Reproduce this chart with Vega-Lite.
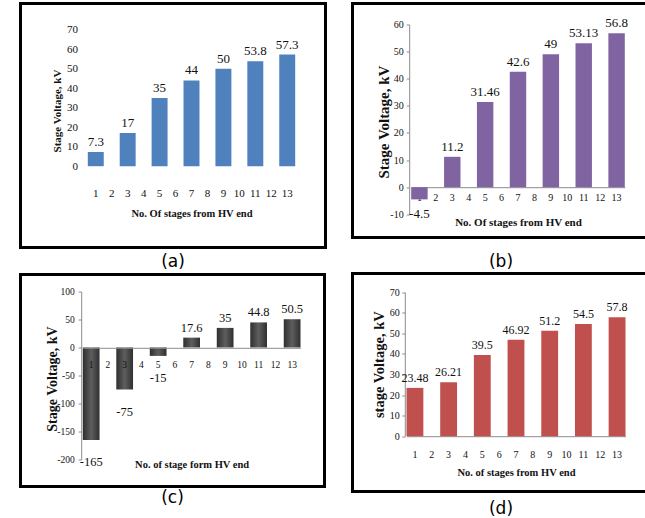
{
  "$schema": "https://vega.github.io/schema/vega-lite/v6.json",
  "background": "white",
  "padding": {"left": 18.5, "top": 1.5, "right": 0, "bottom": 0},
  "config": {
    "view": {"stroke": "#000000", "strokeWidth": 3},
    "font": "Liberation Serif",
    "axis": {"labelFont": "Liberation Serif", "titleFont": "Liberation Serif", "labelColor": "#111111", "titleColor": "#111111", "domainColor": "#8c8c8c", "tickColor": "#8c8c8c", "grid": false, "titleFontWeight": "bold", "labelAngle": 0, "labelOverlap": false, "titleBaseline": "middle", "labelExpr": "datum.value + ''"},
    "title": {"font": "DejaVu Sans", "fontSize": 17, "fontWeight": "normal", "color": "#000000", "orient": "bottom", "anchor": "middle"},
    "text": {"font": "Liberation Serif", "color": "#111111"}
  },
  "datasets": {
    "a": [{"stage": 1, "v": 7.3}, {"stage": 3, "v": 17}, {"stage": 5, "v": 35}, {"stage": 7, "v": 44}, {"stage": 9, "v": 50}, {"stage": 11, "v": 53.8}, {"stage": 13, "v": 57.3}],
    "b": [{"stage": 1, "v": -4.5}, {"stage": 3, "v": 11.2}, {"stage": 5, "v": 31.46}, {"stage": 7, "v": 42.6}, {"stage": 9, "v": 49}, {"stage": 11, "v": 53.13}, {"stage": 13, "v": 56.8}],
    "c": [{"stage": 1, "v": -165}, {"stage": 3, "v": -75}, {"stage": 5, "v": -15}, {"stage": 7, "v": 17.6}, {"stage": 9, "v": 35}, {"stage": 11, "v": 44.8}, {"stage": 13, "v": 50.5}],
    "d": [{"stage": 1, "v": 23.48}, {"stage": 3, "v": 26.21}, {"stage": 5, "v": 39.5}, {"stage": 7, "v": 46.92}, {"stage": 9, "v": 51.2}, {"stage": 11, "v": 54.5}, {"stage": 13, "v": 57.8}]
  },
  "spacing": 23,
  "hconcat": [
    {
      "spacing": 1,
      "vconcat": [
        {
          "width": 305, "height": 244,
          "title": {"text": "(a)", "offset": 6},
          "data": {"name": "a"},
          "encoding": {
            "x": {"field": "stage", "type": "ordinal",
              "scale": {"domain": [1,2,3,4,5,6,7,8,9,10,11,12,13], "range": [67.3, 274.7], "paddingInner": 0, "paddingOuter": 0},
              "axis": {"title": "No. Of stages from HV end", "offset": -81.3, "domain": false, "ticks": false, "tickSize": 0, "labelPadding": 21, "labelFontSize": 11, "titleFontSize": 10.5, "titleY": 47.3}},
            "y": {"field": "v", "type": "quantitative",
              "scale": {"domain": [0, 70], "range": [162.7, 26.3], "nice": false},
              "axis": {"title": "Stage Voltage, kV", "values": [0,10,20,30,40,50,60,70], "offset": -59, "domain": false, "ticks": false, "tickSize": 0, "labelPadding": 2, "labelFontSize": 11, "titleFontSize": 11, "titleX": -22, "titleY": 107}}
          },
          "layer": [
            {"mark": {"type": "bar", "color": "#4F81BD"}, "encoding": {"y2": {"datum": 0}}},
            {"mark": {"type": "text", "baseline": "bottom", "dy": -3, "fontSize": 13}, "encoding": {"text": {"field": "v", "type": "nominal"}}}
          ]
        },
        {
          "width": 304, "height": 212,
          "title": {"text": "(c)", "offset": 3},
          "data": {"name": "c"},
          "encoding": {
            "x": {"field": "stage", "type": "ordinal",
              "scale": {"domain": [1,2,3,4,5,6,7,8,9,10,11,12,13], "range": [62.3, 280], "paddingInner": 0, "paddingOuter": 0},
              "axis": {"title": "No. of stage form HV end", "offset": -138.7, "domain": true, "ticks": false, "tickSize": 0, "labelPadding": 12, "labelFontSize": 9.5, "titleFontSize": 10.5, "titleY": 117, "zindex": 1}},
            "y": {"field": "v", "type": "quantitative",
              "scale": {"domain": [-200, 100], "range": [185, 17], "nice": false},
              "axis": {"title": "Stage Voltage, kV", "values": [-200,-150,-100,-50,0,50,100], "offset": -60.7, "domain": true, "ticks": true, "tickSize": 3, "labelPadding": 4, "labelFontSize": 9.5, "titleFontSize": 14, "titleX": -29, "titleY": 104}}
          },
          "layer": [
            {"mark": {"type": "bar", "color": {"gradient": "linear", "x1": 0, "y1": 0, "x2": 1, "y2": 0, "stops": [{"offset": 0, "color": "#2f2f2f"}, {"offset": 0.5, "color": "#5e5e5e"}, {"offset": 1, "color": "#2f2f2f"}]}}, "encoding": {"y2": {"datum": 0}}},
            {"transform": [{"filter": "datum.v >= 0"}], "mark": {"type": "text", "baseline": "bottom", "dy": -3, "fontSize": 12.5}, "encoding": {"text": {"field": "v", "type": "nominal"}}},
            {"transform": [{"filter": "datum.v < 0"}], "mark": {"type": "text", "baseline": "top", "dy": 16, "fontSize": 12.5}, "encoding": {"text": {"field": "v", "type": "nominal"}}}
          ]
        }
      ]
    },
    {
      "spacing": 0,
      "vconcat": [
        {
          "width": 297, "height": 234,
          "title": {"text": "(b)", "offset": 16},
          "data": {"name": "b"},
          "encoding": {
            "x": {"field": "stage", "type": "ordinal",
              "scale": {"domain": [1,2,3,4,5,6,7,8,9,10,11,12,13], "range": [58.7, 272.3], "paddingInner": 0, "paddingOuter": 0},
              "axis": {"title": "No. Of stages from HV end", "offset": -50.3, "domain": true, "ticks": false, "tickSize": 0, "labelPadding": 5, "labelFontSize": 10, "titleFontSize": 11, "titleY": 35}},
            "y": {"field": "v", "type": "quantitative",
              "scale": {"domain": [-10, 60], "range": [210.8, 21], "nice": false},
              "axis": {"title": "Stage Voltage, kV", "values": [-10,0,10,20,30,40,50,60], "offset": -56.7, "domain": true, "ticks": true, "tickSize": 3, "labelPadding": 3, "labelFontSize": 10, "titleFontSize": 15, "titleX": -26, "titleY": 118}}
          },
          "layer": [
            {"mark": {"type": "bar", "color": "#8064A2"}, "encoding": {"y2": {"datum": 0}}},
            {"transform": [{"filter": "datum.v >= 0"}], "mark": {"type": "text", "baseline": "bottom", "dy": -3, "fontSize": 13}, "encoding": {"text": {"field": "v", "type": "nominal"}}},
            {"transform": [{"filter": "datum.v < 0"}], "mark": {"type": "text", "baseline": "top", "dy": 8.5, "fontSize": 13}, "encoding": {"text": {"field": "v", "type": "nominal"}}}
          ]
        },
        {
          "width": 297, "height": 218,
          "title": {"text": "(d)", "offset": 9},
          "data": {"name": "d"},
          "encoding": {
            "x": {"field": "stage", "type": "ordinal",
              "scale": {"domain": [1,2,3,4,5,6,7,8,9,10,11,12,13], "range": [54, 273], "paddingInner": 0, "paddingOuter": 0},
              "axis": {"title": "No. of stages from HV end", "offset": -55.3, "domain": true, "ticks": false, "tickSize": 0, "labelPadding": 13, "labelFontSize": 10, "titleFontSize": 10.5, "titleY": 36}},
            "y": {"field": "v", "type": "quantitative",
              "scale": {"domain": [0, 70], "range": [162.7, 18.7], "nice": false},
              "axis": {"title": "stage Voltage, kV", "values": [0,10,20,30,40,50,60,70], "offset": -52.3, "domain": true, "ticks": true, "tickSize": 3, "labelPadding": 2.6, "labelFontSize": 10, "titleFontSize": 14.5, "titleX": -25}}
          },
          "layer": [
            {"mark": {"type": "bar", "color": "#C0504D"}, "encoding": {"y2": {"datum": 0}}},
            {"mark": {"type": "text", "baseline": "bottom", "dy": -3, "fontSize": 12}, "encoding": {"text": {"field": "v", "type": "nominal"}}}
          ]
        }
      ]
    }
  ]
}
